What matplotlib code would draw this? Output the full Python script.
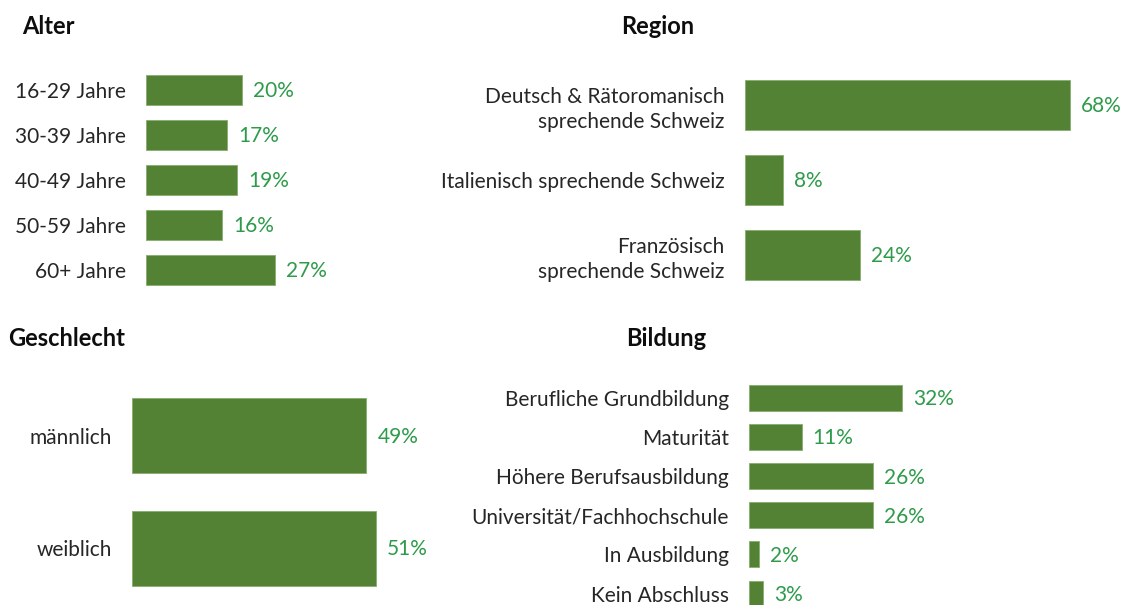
import matplotlib.pyplot as plt

plt.rcParams['font.family'] = ['Lato', 'DejaVu Sans']

# Daten
alter_kat = ["16-29 Jahre", "30-39 Jahre", "40-49 Jahre", "50-59 Jahre", "60+ Jahre"]
alter_val = [20, 17, 19, 16, 27]

region_kat = ["Deutsch & Rätoromanisch\nsprechende Schweiz",
              "Italienisch sprechende Schweiz",
              "Französisch\nsprechende Schweiz"]
region_val = [68, 8, 24]

geschlecht_kat = ["männlich", "weiblich"]
geschlecht_val = [49, 51]

bildung_kat = ["Berufliche Grundbildung", "Maturität", "Höhere Berufsausbildung",
               "Universität/Fachhochschule", "In Ausbildung", "Kein Abschluss"]
bildung_val = [32, 11, 26, 26, 2, 3]

BAR = "#548235"
LBL = "#2E9B4A"
W, H = 1123, 605
PX_PRO_PROZENT = 4.78

fig = plt.figure(figsize=(W / 100, H / 100), dpi=100)


def panel(kat, val, left, first_center, pitch, bar_h, width_px, title, tx, ty, ha="left"):
    n = len(kat)
    top = first_center - pitch / 2
    height = pitch * n
    ax = fig.add_axes([left / W, 1 - (top + height) / H, width_px / W, height / H])
    bars = ax.barh(range(n), val, height=bar_h / pitch, color=BAR,
                   edgecolor="#86ad6c", linewidth=0.6)
    ax.set_ylim(n - 0.5, -0.5)
    ax.set_xlim(0, width_px / PX_PRO_PROZENT)
    ax.set_yticks(range(n))
    ax.set_yticklabels(kat, fontsize=15, color="#262626", linespacing=1.3)
    ax.tick_params(axis="y", length=0, pad=14.5)
    ax.set_xticks([])
    for s in ax.spines.values():
        s.set_visible(False)
    ax.patch.set_alpha(0)
    for b, v in zip(bars, val):
        ax.annotate(f"{v}%", (b.get_width(), b.get_y() + b.get_height() / 2),
                    xytext=(8, -1), textcoords="offset points",
                    ha="left", va="center", color=LBL, fontsize=15)
    fig.text(tx / W, 1 - ty / H, title, fontsize=17, fontweight="bold",
             ha=ha, va="center", color="#0d0d0d")
    return ax


panel(alter_kat, alter_val, 146, 89.5, 45, 30, 220, "Alter", 22, 27)
panel(region_kat, region_val, 745, 105, 75, 50, 370, "Region", 658, 26, ha="center")
panel(geschlecht_kat, geschlecht_val, 132, 435.5, 112.5, 75, 300, "Geschlecht", 8, 338)
panel(bildung_kat, bildung_val, 749, 398, 39.1, 26, 300, "Bildung", 666, 338, ha="center")

fig.savefig("out.png", dpi=100)
